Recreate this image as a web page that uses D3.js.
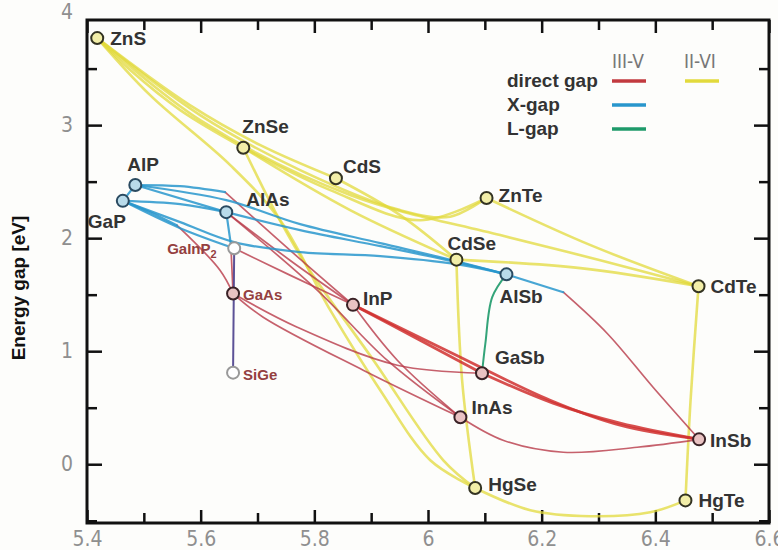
<!DOCTYPE html>
<html>
<head>
<meta charset="utf-8">
<script src="https://cdn.jsdelivr.net/npm/d3@7"></script>
<style>
  body { margin: 0; background: #fdfdfb; }
  svg { display: block; }
  .lbl { font-family: "Liberation Sans", Arial, sans-serif; font-weight: bold; fill: #333; }
  .tick text { font-family: "Liberation Sans Narrow", "DejaVu Sans Condensed", sans-serif; fill: #8f8f8f; }
</style>
</head>
<body>
<div id="chart"></div>
<script>
// binaries: [name, lattice constant (A), energy gap (eV), kind]
const compounds = [
  ["ZnS", 5.418, 3.77, "iivi"],
  ["ZnSe", 5.675, 2.80, "iivi"],
  ["CdS", 5.838, 2.53, "iivi"],
  ["ZnTe", 6.103, 2.355, "iivi"],
  ["CdSe", 6.050, 1.81, "iivi"],
  ["CdTe", 6.476, 1.575, "iivi"],
  ["HgSe", 6.083, -0.21, "iivi"],
  ["HgTe", 6.453, -0.32, "iivi"],
  ["AlP", 5.485, 2.47, "x"],
  ["GaP", 5.463, 2.33, "x"],
  ["AlAs", 5.645, 2.23, "x"],
  ["AlSb", 6.138, 1.68, "x"],
  ["GaAs", 5.657, 1.51, "direct"],
  ["InP", 5.868, 1.41, "direct"],
  ["GaSb", 6.095, 0.805, "direct"],
  ["InAs", 6.057, 0.415, "direct"],
  ["InSb", 6.477, 0.22, "direct"],
  ["GaInP2", 5.659, 1.91, "other"],
  ["SiGe", 5.657, 0.81, "other"]
];

// II-VI alloy curves (direct gap)
const iiviCurves = [
  [[5.418, 3.77], [5.476, 3.487], [5.564, 3.133], [5.675, 2.80]],
  [[5.418, 3.77], [5.581, 3.177], [5.705, 2.823], [5.838, 2.53]],
  [[5.418, 3.77], [5.599, 3.088], [5.775, 2.602], [5.951, 2.248], [6.039, 2.19], [6.103, 2.355]],
  [[5.418, 3.77], [5.599, 3.044], [5.863, 2.381], [6.127, 2.027], [6.303, 1.805], [6.476, 1.575]],
  [[5.418, 3.77], [5.511, 3.265], [5.652, 2.646], [5.740, 2.159], [5.828, 1.363], [5.916, 0.655], [6.004, 0.035], [6.083, -0.21]],
  [[5.675, 2.80], [5.863, 2.248], [6.050, 1.81]],
  [[5.675, 2.80], [5.828, 2.425], [5.986, 2.159], [6.103, 2.355]],
  [[5.675, 2.80], [5.727, 2.274], [5.780, 1.805], [5.904, 0.920], [6.027, 0.035], [6.083, -0.21]],
  [[5.838, 2.53], [5.951, 2.204], [6.050, 1.81]],
  [[6.103, 2.355], [6.286, 1.938], [6.476, 1.575]],
  [[6.050, 1.81], [6.268, 1.735], [6.476, 1.575]],
  [[6.050, 1.81], [6.060, 0.743], [6.083, -0.21]],
  [[6.476, 1.575], [6.462, 0.566], [6.453, -0.32]],
  [[6.083, -0.21], [6.180, -0.407], [6.286, -0.460], [6.391, -0.425], [6.453, -0.32]]
];

// III-V direct gap curves, the heavy ones first
const directMain = [
  [[5.868, 1.41], [5.986, 1.097], [6.095, 0.805]],
  [[6.095, 0.805], [6.220, 0.540], [6.338, 0.363], [6.477, 0.22]],
  [[5.868, 1.41], [6.039, 0.991], [6.215, 0.566], [6.338, 0.345], [6.477, 0.22]]
];
const directCurves = [
  [[5.657, 1.51], [5.710, 1.301], [5.886, 0.832], [6.057, 0.415]],
  [[5.657, 1.51], [5.770, 1.212], [5.946, 0.876], [6.095, 0.805]],
  [[5.868, 1.41], [5.946, 0.920], [6.057, 0.415]],
  [[6.057, 0.415], [6.132, 0.212], [6.238, 0.106], [6.368, 0.150], [6.477, 0.22]],
  [[5.645, 2.23], [5.757, 1.805], [5.868, 1.41]],
  [[5.659, 1.91], [5.757, 1.673], [5.868, 1.41]],
  [[5.643, 2.407], [5.757, 1.894], [5.868, 1.41]],
  [[5.645, 2.23], [5.805, 1.540], [5.928, 0.920], [6.057, 0.415]],
  [[5.558, 2.115], [5.634, 1.717], [5.657, 1.51]],
  [[6.238, 1.522], [6.315, 1.159], [6.396, 0.681], [6.477, 0.22]],
  [[5.653, 1.95], [5.657, 1.51]]
];

// III-V X-gap curves
const xCurves = [
  [[5.485, 2.47], [5.645, 2.23]],
  [[5.463, 2.33], [5.485, 2.47]],
  [[5.463, 2.33], [5.564, 2.301], [5.645, 2.23]],
  [[5.645, 2.23], [5.775, 2.071], [5.916, 1.929], [6.050, 1.788], [6.138, 1.68]],
  [[5.485, 2.47], [5.645, 2.336], [5.775, 2.124], [5.916, 1.956], [6.050, 1.796], [6.138, 1.68]],
  [[5.463, 2.33], [5.564, 2.142], [5.659, 1.965], [5.775, 1.876], [5.916, 1.841], [6.050, 1.770], [6.138, 1.68]],
  [[5.485, 2.47], [5.564, 2.460], [5.643, 2.407]],
  [[5.463, 2.33], [5.564, 2.088], [5.659, 1.91]],
  [[5.463, 2.33], [5.511, 2.230], [5.558, 2.115]],
  [[6.138, 1.68], [6.238, 1.522]],
  [[5.645, 2.23], [5.653, 1.95]]
];

// III-V L-gap curves
const lCurves = [
  [[6.138, 1.68], [6.113, 1.478], [6.101, 1.071], [6.095, 0.805]]
];

// lattice matched to GaAs
const otherCurves = [
  [[5.659, 1.91], [5.657, 0.81]]
];

const legendRows = ["direct gap", "X-gap", "L-gap"];
const legendCols = ["III-V", "II-VI"];

const xTicks = d3.range(54, 67).map(d => d / 10);
const yTicks = d3.range(-1, 9).map(d => d / 2);

const width = 778, height = 550;
const margin = { top: 20, right: 9, bottom: 27, left: 87 };

const svg = d3.select("#chart").append("svg")
  .attr("width", width)
  .attr("height", height);

const x = d3.scaleLinear().domain([5.4, 6.6]).range([margin.left, width - margin.right]);
const y = d3.scaleLinear().domain([-0.52, 3.93]).range([height - margin.bottom, margin.top]);

const fmt = d => (Math.abs(d - Math.round(d)) < 1e-9 ? d3.format("d")(d) : d3.format(".1f")(d));
const isMajorX = d => Math.round(d * 10) % 2 === 0;
const isMajorY = d => Math.abs(d - Math.round(d)) < 1e-9;
const inY = d => d <= y.domain()[1];

// axes
const xAxis = svg.append("g")
  .attr("transform", `translate(0,${height - margin.bottom})`)
  .call(d3.axisBottom(x).tickValues(xTicks).tickSize(0).tickPadding(8)
    .tickFormat(d => isMajorX(d) ? fmt(d) : ""));
xAxis.selectAll(".tick line").attr("y2", d => isMajorX(d) ? -13 : -10);

const xTop = svg.append("g")
  .attr("transform", `translate(0,${margin.top})`)
  .call(d3.axisTop(x).tickValues(xTicks).tickSize(0).tickFormat(""));
xTop.selectAll(".tick line").attr("y2", d => isMajorX(d) ? 13 : 10);

const yAxis = svg.append("g")
  .attr("transform", `translate(${margin.left},0)`)
  .call(d3.axisLeft(y).tickValues(yTicks).tickSize(0).tickPadding(14)
    .tickFormat(d => isMajorY(d) ? fmt(d) : ""));
yAxis.selectAll(".tick line").attr("x2", d => !inY(d) ? 0 : isMajorY(d) ? 15 : 10);

const yRight = svg.append("g")
  .attr("transform", `translate(${width - margin.right},0)`)
  .call(d3.axisRight(y).tickValues(yTicks.filter(inY)).tickSize(0).tickFormat(""));
yRight.selectAll(".tick line").attr("x2", d => isMajorY(d) ? -15 : -10);

svg.selectAll(".domain").remove();
svg.selectAll(".tick line").attr("stroke", "#111").attr("stroke-width", 2.5);
svg.selectAll(".tick text").style("font-size", "21px");

svg.append("rect")
  .attr("x", margin.left).attr("y", margin.top)
  .attr("width", width - margin.left - margin.right)
  .attr("height", height - margin.top - margin.bottom)
  .attr("fill", "none").attr("stroke", "#111").attr("stroke-width", 3);

svg.append("text")
  .attr("class", "lbl")
  .attr("transform", `translate(25,288) rotate(-90)`)
  .attr("text-anchor", "middle")
  .style("font-size", "19px")
  .style("fill", "#111")
  .text("Energy gap [eV]");

// curves
const line = d3.line()
  .x(d => x(d[0])).y(d => y(d[1]))
  .curve(d3.curveCatmullRom.alpha(0.5));

const plot = svg.append("g");

function drawCurves(data, color, w, op) {
  plot.append("g").selectAll("path")
    .data(data)
    .join("path")
    .attr("d", line)
    .attr("fill", "none")
    .attr("stroke", color)
    .attr("stroke-width", w)
    .attr("stroke-opacity", op)
    .attr("stroke-linecap", "round");
}

drawCurves(iiviCurves, "#e2da3c", 2.6, 0.75);
drawCurves(directCurves, "#b83a48", 1.7, 0.8);
drawCurves(directMain, "#d0302f", 2.8, 0.85);
drawCurves(xCurves, "#2896cc", 2.2, 0.85);
drawCurves(lCurves, "#1e9a6a", 2, 0.9);
drawCurves(otherCurves, "#4a3f8c", 2, 0.9);

// points
const fills = { iivi: "#f2eea8", x: "#b9dbea", direct: "#e9c2c2", other: "#ffffff" };
const strokes = { iivi: "#333322", x: "#2a4a60", direct: "#3a2226", other: "#999999" };

svg.append("g").selectAll("circle")
  .data(compounds)
  .join("circle")
  .attr("cx", d => x(d[1]))
  .attr("cy", d => y(d[2]))
  .attr("r", 6)
  .attr("fill", d => fills[d[3]])
  .attr("stroke", d => strokes[d[3]])
  .attr("stroke-width", 2);

// labels (offsets in px from point)
const labelPos = {
  ZnS: [13, 7], ZnSe: [-1, -15], CdS: [7, -5], ZnTe: [12, 4], CdSe: [-9, -10],
  CdTe: [12, 7], HgSe: [13, 3], HgTe: [13, 7], AlP: [-8, -14], GaP: [-35, 27],
  AlAs: [20, -6], AlSb: [-7, 29], GaAs: [10, 6], InP: [10, 0], GaSb: [13, -9],
  InAs: [11, -3], InSb: [11, 8], GaInP2: [-67, 6], SiGe: [10, 7]
};
const smallNames = new Set(["GaInP2", "GaAs", "SiGe"]);

const labels = svg.append("g").selectAll("text")
  .data(compounds)
  .join("text")
  .attr("class", "lbl")
  .attr("x", d => x(d[1]) + labelPos[d[0]][0])
  .attr("y", d => y(d[2]) + labelPos[d[0]][1])
  .style("font-size", d => smallNames.has(d[0]) ? "15px" : "19px")
  .style("fill", d => smallNames.has(d[0]) ? "#94403f" : "#333");

labels.each(function(d) {
  const t = d3.select(this);
  if (d[0] === "GaInP2") {
    t.append("tspan").text("GaInP");
    t.append("tspan").attr("dy", 4).style("font-size", "11px").text("2");
  } else {
    t.text(d[0]);
  }
});

// legend
const legend = svg.append("g");
legend.selectAll("text.col")
  .data(legendCols)
  .join("text")
  .attr("class", "col")
  .attr("x", (d, i) => 612 + i * 72)
  .attr("y", 68)
  .style("font-family", "'Liberation Sans Narrow', 'DejaVu Sans Condensed', sans-serif")
  .style("font-size", "19px")
  .style("fill", "#777")
  .text(d => d);

legend.selectAll("text.row")
  .data(legendRows)
  .join("text")
  .attr("class", "lbl row")
  .attr("x", 507)
  .attr("y", (d, i) => 87 + i * 24)
  .style("font-size", "19px")
  .text(d => d);

const legendLines = [
  [0, 0, "#c23a3f"], [0, 1, "#e2da3c"], [1, 0, "#2896cc"], [2, 0, "#1e9a6a"]
];
legend.selectAll("line")
  .data(legendLines)
  .join("line")
  .attr("x1", d => 612 + d[1] * 73)
  .attr("x2", d => 646 + d[1] * 73)
  .attr("y1", d => 81 + d[0] * 24)
  .attr("y2", d => 81 + d[0] * 24)
  .attr("stroke", d => d[2])
  .attr("stroke-width", 3.5);
</script>
</body>
</html>
